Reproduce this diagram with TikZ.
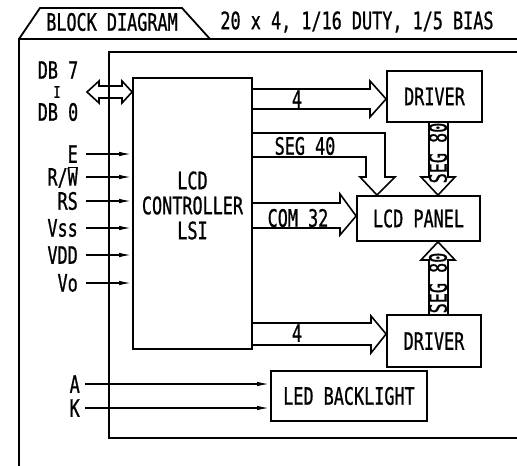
\documentclass[tikz,border=0pt]{standalone}
\usepackage{fontspec}
\newfontfamily\cadfont{DejaVu Sans Mono}[FakeStretch=0.7, FakeBold=0.8]
\usetikzlibrary{positioning,arrows.meta,calc}

\begin{document}
\begin{tikzpicture}[
        x=1pt, y=-1pt,
        every node/.style={font=\cadfont\fontsize{24}{25}\selectfont},
        frame/.style={line width=1.8pt},
        blk/.style={draw, line width=1.8pt, inner sep=0pt},
        lbl/.style={inner sep=0pt, anchor=east},
        sig/.style={line width=1.6pt, shorten <=8pt, -{Latex[length=13pt, width=4.5pt]}},
        bus/.style={line width=1.6pt, line join=miter}
    ]
        \useasboundingbox (0,0) rectangle (517,466);

        % Outer frame with title tab
        \draw[frame] (19,466) -- (19,39) -- (517,39);
        \draw[frame] (19,39) -- (40,8) -- (182,8) -- (210,39);
        \node (tab) at (112,22) {BLOCK DIAGRAM};
        \node (spec) at (357,22) {20 x 4, 1/16 DUTY, 1/5 BIAS};

        % Module outline
        \draw[frame] (517,52) -- (109,52) -- (109,438) -- (517,438);

        % Blocks
        \node[blk, minimum width=119pt, minimum height=271pt] (ctrl) at (192.5,213.5) {};
        \node[align=center] (ctrltxt) at ([yshift=8pt]ctrl.center) {LCD\\CONTROLLER\\LSI};
        \node[blk, minimum width=95pt, minimum height=51pt] (drvA) at (434.5,96.5) {DRIVER};
        \node[blk, minimum width=123pt, minimum height=45pt] (panel) at (418.5,218.5) {LCD PANEL};
        \node[blk, minimum width=94pt, minimum height=52pt] (drvB) at (434,341) {DRIVER};
        \node[blk, minimum width=156pt, minimum height=50pt] (led) at (349,396) {LED BACKLIGHT};

        % Data bus DB7..DB0
        \node[inner sep=0pt] (db7) at (58,70) {DB 7};
        \node[inner sep=0pt, font=\cadfont\fontsize{16}{16}\selectfont] (dbto) at (57,92) {I};
        \node[inner sep=0pt] (db0) at (58,112) {DB 0};
        \coordinate (dbtip) at (87,92);
        \draw[bus] (dbtip) -- (99,81) -- (99,86) -- (122,86) -- (122,81) -- (ctrl.west |- 0,92)
            -- (122,103) -- (122,98) -- (99,98) -- (99,103) -- cycle;

        % Control and supply inputs
        \node[lbl] (e) at (78,154) {E};
        \node[lbl] (rw) at (78,177) {R/$\overline{\hbox{W}}$};
        \node[lbl] (rs) at (78,201) {RS};
        \node[lbl] (vss) at (78,228) {Vss};
        \node[lbl] (vdd) at (78,255) {VDD};
        \node[lbl] (vo) at (78,283) {Vo};
        \draw[sig] (e.east) -- (e.east -| ctrl.west);
        \draw[sig] (rw.east) -- (rw.east -| ctrl.west);
        \draw[sig] (rs.east) -- (rs.east -| ctrl.west);
        \draw[sig] (vss.east) -- (vss.east -| ctrl.west);
        \draw[sig] (vdd.east) -- (vdd.east -| ctrl.west);
        \draw[sig] (vo.east) -- (vo.east -| ctrl.west);

        % Backlight inputs
        \node[lbl] (a) at (80,384) {A};
        \node[lbl] (k) at (80,408) {K};
        \draw[sig, shorten <=5pt] (a.east) -- (a.east -| led.west);
        \draw[sig, shorten <=5pt] (k.east) -- (k.east -| led.west);

        % Controller to upper driver
        \draw[bus] (ctrl.east |- 0,89) -- (370,89) -- (370,81) -- (drvA.west |- 0,99)
            -- (370,117) -- (370,109) -- (ctrl.east |- 0,109);
        \node (n4a) at (297,99) {4};

        % Segment lines to panel
        \draw[bus] (ctrl.east |- 0,133) -- (385,133) -- (385,177) -- (395,177) -- (panel.north -| 377,0)
            -- (360,177) -- (366,177) -- (366,157) -- (ctrl.east |- 0,157);
        \node (seg40) at (305,146) {SEG 40};

        % Common lines to panel
        \draw[bus] (ctrl.east |- 0,203) -- (340,203) -- (340,194) -- (panel.west |- 0,216)
            -- (340,235) -- (340,228) -- (ctrl.east |- 0,228);
        \node (com32) at (298,218) {COM 32};

        % Controller to lower driver
        \draw[bus] (ctrl.east |- 0,323) -- (371,323) -- (371,316) -- (drvB.west |- 0,334)
            -- (371,353) -- (371,345) -- (ctrl.east |- 0,345);
        \node (n4b) at (297,333) {4};

        % Drivers to panel
        \draw[bus] (drvA.south -| 429,0) -- (429,177) -- (421,177) -- (panel.north -| 438,0)
            -- (455,177) -- (448,177) -- (drvA.south -| 448,0);
        \node[rotate=90] (seg80a) at (438,153) {SEG 80};
        \draw[bus] (drvB.north -| 429,0) -- (429,260) -- (421,260) -- (panel.south -| 438,0)
            -- (455,260) -- (448,260) -- (drvB.north -| 448,0);
        \node[rotate=90] (seg80b) at (438,283) {SEG 80};

    \end{tikzpicture}
\end{document}
